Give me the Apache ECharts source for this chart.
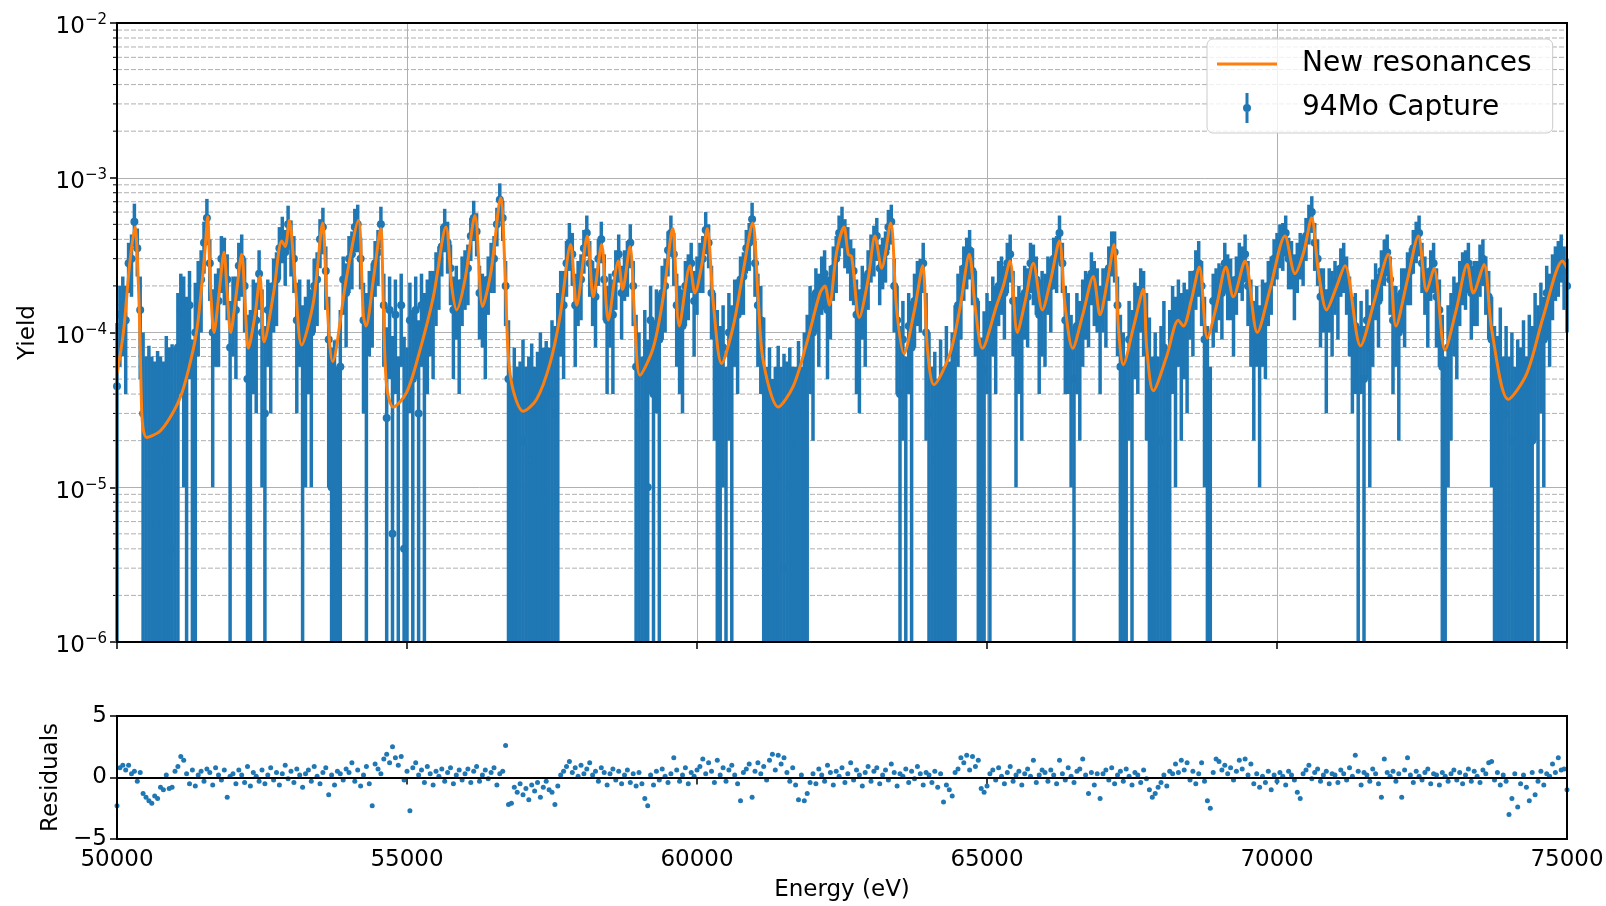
<!DOCTYPE html>
<html>
<head>
<meta charset="utf-8">
<script src="https://cdn.jsdelivr.net/npm/echarts/dist/echarts.min.js"></script>
<style>
html,body{margin:0;padding:0;background:#fff;}
#chart{width:1606px;height:906px;}
</style>
</head>
<body>
<div id="chart"></div>
<script>
// ---------------- DATA ----------------
// Energy grid of the measured points (eV)
const energies = [
50000,50050,50100,50150,50200,50250,50300,50350,50400,50450,50500,50550,50600,50650,50700,50750,50800,50850,50900,50950,
51000,51050,51100,51150,51200,51250,51300,51350,51400,51450,51500,51550,51600,51650,51700,51750,51800,51850,51900,51950,
52000,52050,52100,52150,52200,52250,52300,52350,52400,52450,52500,52550,52600,52650,52700,52750,52800,52850,52900,52950,
53000,53050,53100,53150,53200,53250,53300,53350,53400,53450,53500,53550,53600,53650,53700,53750,53800,53850,53900,53950,
54000,54050,54100,54150,54200,54250,54300,54350,54400,54450,54500,54550,54600,54650,54700,54750,54800,54850,54900,54950,
55000,55050,55100,55150,55200,55250,55300,55350,55400,55450,55500,55550,55600,55650,55700,55750,55800,55850,55900,55950,
56000,56050,56100,56150,56200,56250,56300,56350,56400,56450,56500,56550,56600,56650,56700,56750,56800,56850,56900,56950,
57000,57050,57100,57150,57200,57250,57300,57350,57400,57450,57500,57550,57600,57650,57700,57750,57800,57850,57900,57950,
58000,58050,58100,58150,58200,58250,58300,58350,58400,58450,58500,58550,58600,58650,58700,58750,58800,58850,58900,58950,
59000,59050,59100,59150,59200,59250,59300,59350,59400,59450,59500,59550,59600,59650,59700,59750,59800,59850,59900,59950,
60000,60050,60100,60150,60200,60250,60300,60350,60400,60450,60500,60550,60600,60650,60700,60750,60800,60850,60900,60950,
61000,61050,61100,61150,61200,61250,61300,61350,61400,61450,61500,61550,61600,61650,61700,61750,61800,61850,61900,61950,
62000,62050,62100,62150,62200,62250,62300,62350,62400,62450,62500,62550,62600,62650,62700,62750,62800,62850,62900,62950,
63000,63050,63100,63150,63200,63250,63300,63350,63400,63450,63500,63550,63600,63650,63700,63750,63800,63850,63900,63950,
64000,64050,64100,64150,64200,64250,64300,64350,64400,64450,64500,64550,64600,64650,64700,64750,64800,64850,64900,64950,
65000,65050,65100,65150,65200,65250,65300,65350,65400,65450,65500,65550,65600,65650,65700,65750,65800,65850,65900,65950,
66000,66050,66100,66150,66200,66250,66300,66350,66400,66450,66500,66550,66600,66650,66700,66750,66800,66850,66900,66950,
67000,67050,67100,67150,67200,67250,67300,67350,67400,67450,67500,67550,67600,67650,67700,67750,67800,67850,67900,67950,
68000,68050,68100,68150,68200,68250,68300,68350,68400,68450,68500,68550,68600,68650,68700,68750,68800,68850,68900,68950,
69000,69050,69100,69150,69200,69250,69300,69350,69400,69450,69500,69550,69600,69650,69700,69750,69800,69850,69900,69950,
70000,70050,70100,70150,70200,70250,70300,70350,70400,70450,70500,70550,70600,70650,70700,70750,70800,70850,70900,70950,
71000,71050,71100,71150,71200,71250,71300,71350,71400,71450,71500,71550,71600,71650,71700,71750,71800,71850,71900,71950,
72000,72050,72100,72150,72200,72250,72300,72350,72400,72450,72500,72550,72600,72650,72700,72750,72800,72850,72900,72950,
73000,73050,73100,73150,73200,73250,73300,73350,73400,73450,73500,73550,73600,73650,73700,73750,73800,73850,73900,73950,
74000,74050,74100,74150,74200,74250,74300,74350,74400,74450,74500,74550,74600,74650,74700,74750,74800,74850,74900,74950,
75000
];
// Measured capture yield, in units of 1e-5
const yieldE5 = [
4.5,13,15,12,28,30,52,35,14,3,-1,1.2,-2,-1.5,0.6,-1,-2.5,1.5,-1,0.4,
-1,8,14,12,6,15,-2,10,18,22,38,55,28,10,15,16,30,28,22,8,
15,14,27,30,20,5,6,13,12,24,10,3,14,12,20,22,35,42,33,50,
38,30,12,14,7,9,13,10,20,22,40,48,25,9,1,0.9,-2,6,22,18,
30,32,48,50,30,12,9,16,18,28,33,50,15,2.8,14,0.5,13,-3,15,0.4,
-1,12,5,14,3,15,9,13,16,15,22,25,36,48,38,26,14,18,13,21,
24,26,42,55,45,18,16,14,22,28,30,50,72,55,20,5,-3,1,-2,-1.5,
2,-2,-1,1.5,-3,-0.5,2,-1,0.8,-2,4,3,9,16,15,28,38,32,15,20,
22,35,44,28,20,17,30,40,22,12,16,13,24,32,18,25,28,38,20,6,
3,-1,6,1,12,4,11,9,18,20,34,44,32,15,12,11,20,22,28,16,
22,28,30,46,38,18,10,7,4,8,-2,10,7,14,13,22,23,35,38,54,
28,15,12,5.5,-2,1,-3,-1,1.2,-2,0.3,-1.5,1,-2,-1,1.8,-2,3,6,12,
10,18,15,22,24,14,18,26,30,44,50,40,36,28,25,13,11,18,15,24,
32,36,42,26,30,33,48,52,20,12,4,9,-1,11,8,16,20,20,28,10,
3,-1,1.5,-2,2,-1,5,-1.5,3,7,15,18,26,30,34,25,16,8,1.3,5.7,
11,8,15,12,20,22,18,28,32,16,9,12,10,18,17,28,26,22,13,16,
15,22,20,30,30,44,28,12,11,7,5,11,9,14,17,16,24,20,18,12,
18,17,26,34,33,15,6,3,-1,9,7,13,12,18,16,10,4.5,-1,1,-2,
2,8,-1,6,12,9,14,10,13,11,17,16,24,28,20,9,3,-2,16,18,
20,18,28,22,21,15,22,28,26,32,20,14,9,13,8,14,13,20,22,30,
33,38,38,44,30,29,22,28,33,31,42,52,60,38,30,17,18,11,18,16,
21,18,26,28,22,15,10,11,5,10,5,12,8,14,20,16,25,30,33,22,
12,13,10,18,17,24,25,35,40,44,28,22,17,25,28,17,14,6,-1,8,
10,15,13,20,24,24,28,18,20,20,27,30,22,17,9,3,1.5,6.5,-2,3,
-1,2,-3,1,-1,4,-2,5,2,10,7,12,9,18,15,22,26,28,32,25,
20
];
// Yield uncertainty, in units of 1e-5
const errorE5 = [
7,7,8,8,10,13,16,12,9,7,8,7,9,8,7,8,9,8,9,8,
9,10,10,11,11,10,11,11,11,12,14,18,12,9,9,10,12,13,10,8,
8,9,11,13,10,8,8,9,9,10,9,8,8,9,10,11,13,14,13,16,
15,12,9,8,8,8,9,9,10,11,14,16,11,8,7,8,8,8,9,10,
12,13,15,17,11,9,9,9,10,11,13,15,9,8,9,9,9,10,9,9,
9,9,9,9,9,9,9,9,9,10,11,11,13,15,14,11,9,9,9,10,
10,11,13,16,14,9,8,9,9,10,12,14,20,16,9,7,8,7,8,8,
7,8,8,7,9,8,8,9,8,10,8,8,9,9,10,11,13,12,9,9,
10,11,13,11,9,9,10,12,10,8,8,9,10,11,9,9,11,12,9,7,
7,8,8,8,8,8,8,9,9,10,11,13,12,9,8,8,9,10,10,9,
9,10,12,14,12,9,8,7,7,7,8,8,8,8,9,9,10,11,13,15,
11,9,8,7,8,7,8,7,7,8,7,8,7,8,7,7,8,7,7,8,
8,8,9,9,10,9,9,10,12,13,15,14,12,12,10,9,8,9,9,10,
11,13,13,11,11,12,14,15,10,8,7,7,8,7,8,8,9,10,10,8,
7,7,6,7,7,7,6,8,7,8,9,9,10,11,12,10,9,8,8,8,
7,8,8,8,9,9,9,10,11,9,8,8,8,9,9,10,11,9,9,9,
9,9,10,11,12,13,10,8,7,6,6,7,7,8,8,8,9,9,8,8,
8,9,10,11,12,8,7,7,8,7,7,8,8,8,9,8,8,8,9,9,
9,8,9,8,8,8,8,8,8,8,8,9,10,11,9,8,8,8,8,8,
8,9,10,10,9,8,9,10,10,11,9,8,7,7,7,8,8,9,9,10,
11,12,13,13,11,10,10,10,11,11,13,15,16,13,10,9,8,8,8,9,
8,9,9,10,9,8,7,7,6,6,6,7,7,8,8,8,9,10,10,9,
8,7,8,8,9,9,10,11,12,13,10,9,9,9,10,9,8,7,8,7,
8,8,8,9,9,10,10,9,9,9,10,10,9,8,8,8,8,8,9,8,
8,8,9,8,9,8,9,8,9,8,8,9,8,9,9,10,10,11,11,11,
10
];
// Normalised residuals
const residuals = [
-2.3,0.8,1.0,0.6,1.0,0.3,0.5,-0.3,0.4,-1.3,-1.6,-1.9,-2.1,-1.5,-1.7,-0.8,-1.0,0.2,-0.9,-0.8,
0.5,0.9,1.7,1.4,0.3,-0.5,0.6,-0.7,0.2,0.5,-0.3,0.7,0.4,-0.6,0.8,0.2,-0.2,0.6,-1.6,0.1,
0.3,-0.5,0.6,0.2,-0.4,0.9,-0.7,0.4,0.1,-0.3,0.6,-0.5,0.2,0.8,-0.2,0.4,-0.6,0.3,1.0,-0.1,
0.5,-0.4,0.7,0.2,-0.8,0.3,0.6,-0.3,0.9,0.1,-0.5,0.4,0.8,-1.4,0.2,-0.6,0.5,0.3,-0.2,0.7,
0.4,1.2,-0.3,0.6,-0.7,0.2,0.9,-0.5,-2.3,1.1,0.7,0.3,1.5,1.9,1.2,2.5,1.6,1.0,1.7,-0.2,
0.5,-2.7,0.8,1.2,0.2,0.6,-0.4,0.9,0.3,-0.6,0.5,0.1,0.7,-0.3,0.4,0.8,-0.5,0.2,0.6,-0.2,
0.3,0.7,-0.4,0.5,0.9,-0.3,0.2,0.6,-0.1,0.4,0.8,-0.6,0.3,0.5,2.6,-2.2,-2.1,-0.8,-1.2,-0.5,
-1.4,-0.9,-1.8,-0.6,-1.1,-0.4,-1.6,-0.8,-0.3,-1.0,-1.2,-2.2,-0.7,0.2,0.5,0.9,1.3,0.4,0.8,0.1,
1.0,0.3,0.7,1.2,0.2,0.5,-0.3,0.8,0.4,-0.6,0.3,0.7,-0.2,0.5,-0.5,0.2,0.6,-0.4,0.3,-0.7,
0.4,-0.5,-1.7,-2.3,0.2,-0.6,0.5,-0.2,0.7,0.1,-0.4,0.3,1.6,0.6,-0.3,0.2,0.8,-0.5,0.4,0.1,
0.6,0.9,1.5,0.3,1.2,0.5,-0.4,1.4,0.2,0.8,-0.3,0.6,1.0,0.2,-0.5,-1.9,0.4,0.7,1.1,-1.6,
0.5,1.2,0.3,0.9,-0.2,1.4,1.9,0.6,1.8,1.1,1.6,0.4,-0.3,0.8,-0.6,-1.8,0.2,-1.9,-1.3,-0.4,
0.3,-0.5,0.7,0.2,-0.3,1.0,0.4,-0.6,0.5,0.1,0.8,-0.4,0.3,1.2,-0.2,0.6,0.2,-0.7,0.4,0.9,
-0.3,0.5,0.8,-0.5,0.2,0.6,-0.2,1.1,0.4,-0.7,0.3,0.1,0.7,-0.4,0.5,-0.1,0.9,0.3,-0.6,0.4,
0.2,-0.4,0.5,-0.8,0.3,-2.0,-0.6,-1.0,-1.5,0.4,0.7,1.6,1.2,1.8,0.6,1.7,0.9,1.4,-0.9,-1.2,
-0.7,0.3,0.6,-0.2,0.8,0.1,-0.5,0.4,0.9,-0.3,0.2,0.5,-0.6,0.3,0.7,0.1,1.4,-0.4,0.2,0.6,
0.4,-0.3,0.6,0.2,-0.5,1.4,0.3,-0.2,0.8,0.1,-0.4,0.5,0.7,1.5,0.2,-1.3,0.4,-0.6,0.3,-1.7,
0.3,0.6,-0.2,0.8,-0.5,0.2,0.5,-0.3,0.7,0.1,-0.6,0.4,0.2,-0.4,0.6,-0.1,-1.0,-1.6,-1.3,-0.8,
-0.4,0.2,-0.7,0.5,0.3,1.1,0.4,1.4,0.6,1.2,-0.2,0.5,-0.5,0.3,1.2,-0.3,-1.9,-2.5,0.4,1.5,
1.3,0.6,1.0,0.3,0.8,-0.2,0.5,1.4,0.7,1.5,0.2,1.1,-0.5,0.3,-0.8,0.1,-0.4,0.5,-1.0,0.2,
-0.3,0.4,0.1,-0.6,0.5,0.2,-0.2,-1.2,-1.7,0.3,0.6,1.0,-0.1,0.4,0.7,-0.3,0.2,0.5,-0.5,0.3,
0.2,-0.4,0.6,0.3,-0.2,0.8,0.1,1.8,0.5,-0.6,0.4,0.2,-0.3,0.7,0.3,-0.5,-1.6,1.5,0.4,0.1,
0.5,-0.3,0.3,-1.6,0.6,1.6,0.2,-0.4,0.5,0.1,-0.2,0.4,0.7,-0.5,0.3,0.2,-0.6,0.4,0.1,-0.3,
0.3,0.6,-0.2,0.4,-0.5,0.2,0.7,-0.3,0.5,0.1,-0.4,0.6,0.3,1.2,1.3,-0.2,0.4,-0.6,0.2,-0.3,
-3.0,-1.7,0.3,-2.4,-0.5,0.2,-0.8,-1.9,0.4,-1.4,-0.3,0.5,-0.6,0.3,0.1,1.1,0.4,1.6,0.6,0.7,
-1.0
];
// Fitted curve ("New resonances")
const fitEnergy = [
50000,50110,50220,50310,50370,50400,50425,50450,50510,50600,
50740,50910,51090,51230,51370,51460,51520,51563,51600,51621,
51672,51760,51845,51900,51960,52050,52150,52210,52265,52380,
52466,52500,52535,52700,52840,52900,52971,53069,53184,53390,
53546,53615,53718,53960,54161,54247,54293,54420,54546,54592,
54649,54764,54994,55224,55454,55672,55770,55856,56000,56172,
56304,56450,56615,56690,56747,56833,57005,57235,57465,57638,
57821,57925,58109,58212,58356,58471,58643,58718,58844,58930,
59017,59247,59419,59580,59695,59879,59965,60080,60178,60281,
60425,60626,60798,60959,61057,61143,61402,61660,61890,62120,
62206,62281,62407,62534,62609,62666,62799,62950,63069,63184,
63339,63443,63569,63750,63891,63971,64086,64362,64535,64695,
64793,64920,65167,65282,65397,65523,65660,65799,65954,66100,
66247,66345,66477,66650,66833,66948,67080,67189,67264,67350,
67530,67695,67753,67868,68097,68299,68385,68520,68661,68799,
68960,69120,69247,69448,69661,69879,70138,70310,70460,70597,
70713,70856,71010,71172,71440,71680,71919,72051,72250,72437,
72580,72707,72896,73090,73281,73385,73569,73701,73988,74304,
74592,74925,75000
];
const fitYieldE5 = [
5.4,10,28,48,20,8,3.2,2.4,2.1,2.15,
2.3,2.8,3.8,5.7,10,20,35,56,25,17,
10,18,33,18,10,17,32,15,7.9,13,
23,14,8.7,18,39,36,53,22,8.3,16,
51,17,6.5,23,53,13,11,22,47,15,
4.5,3.3,4.1,7.7,17,48,20,14,22,57,
14.7,25,74,25,7,4.2,3.1,3.7,6.3,12.7,
37,15,42,17,37,12,29,19,36,11.5,
5.3,8,17,47,11,27,18,27,47,15.5,
6.3,11,25,51,16,6.5,3.3,4.5,8.5,18,
20,15,33,48,32,31,12.5,22,42,26,
51,14,7.3,14,27,8,4.6,7.3,14.5,32,
15,7.9,15,20,29,10,16,28,14,22,
39,15,7.9,13,23,13,22,37,11,6.2,
11,19,8,4.2,7,12,11,16,26.5,9.2,
15,26.5,17,29,10,19,42,24,33,55,
25,14,19,27,8.2,16,32,11,22,42,
18.5,26,7.7,14,27.5,18,27.5,10.5,3.7,5.4,
12.7,29,26
];
const minorMultipliers = [2,3,4,5,6,7,8,9];
const minorDecades = [-6,-5,-4,-3];
const UNIT = 1e-5;

// ---------------- CHART ----------------
const FONT = "'DejaVu Sans', sans-serif";
const TOP = {left:117, top:23, width:1450, height:619};
const RES = {left:117, top:716, width:1450, height:123};
const BLUE = '#1f77b4', ORANGE = '#ff7f0e';

const nPts = Math.min(energies.length, yieldE5.length, errorE5.length);
const errRows = [];
for (let i = 0; i < nPts; i++) {
  const y = yieldE5[i] * UNIT, e = errorE5[i] * UNIT;
  errRows.push([energies[i], y + e, y, e]);
}
const fitRows = fitEnergy.map((E, i) => [E, fitYieldE5[i] * UNIT]);
const resRows = [];
for (let i = 0; i < Math.min(energies.length, residuals.length); i++) resRows.push([energies[i], residuals[i]]);
const minorRows = [];
minorDecades.forEach(d => minorMultipliers.forEach(m => minorRows.push([50000, m * Math.pow(10, d)])));

const chart = echarts.init(document.getElementById('chart'), null, {renderer:'canvas'});

const tickStyle = {show:true, inside:false, length:7, lineStyle:{color:'#000', width:1.5}};
const labelBase = {color:'#000', fontFamily:FONT, fontSize:23};

chart.setOption({
  animation:false,
  backgroundColor:'#fff',
  textStyle:{fontFamily:FONT},
  grid:[
    Object.assign({containLabel:false, outerBoundsMode:'none', show:false}, TOP),
    Object.assign({containLabel:false, outerBoundsMode:'none', show:false}, RES)
  ],
  legend:{
    left:1207, top:39, orient:'vertical',
    padding:[10,21,10,10],
    itemWidth:60, itemHeight:30, itemGap:14,
    backgroundColor:'rgba(255,255,255,0.8)',
    borderColor:'#cccccc', borderWidth:1, borderRadius:6,
    textStyle:{fontFamily:FONT, fontSize:28, color:'#000', padding:[0,0,0,20], lineHeight:30},
    data:[
      {name:'New resonances', icon:'path://M0,0H60V3H0Z'},
      {name:'94Mo Capture', icon:'path://M8.5,0H11.5V30H8.5Z M10,11A4,4,0,1,1,10,19A4,4,0,1,1,10,11Z'}
    ]
  },
  xAxis:[
    {gridIndex:0, type:'value', min:50000, max:75000, interval:5000,
     axisLine:{show:false}, axisTick:tickStyle, axisLabel:{show:false},
     splitLine:{show:true, lineStyle:{color:'#b0b0b0', width:1}}},
    {gridIndex:1, type:'value', min:50000, max:75000, interval:5000,
     axisLine:{show:false}, axisTick:tickStyle,
     axisLabel:Object.assign({show:true, margin:10, showMinLabel:true, showMaxLabel:true,
       formatter:function(v){return String(v);}}, labelBase),
     splitLine:{show:false},
     name:'Energy (eV)', nameLocation:'middle', nameGap:40,
     nameTextStyle:labelBase}
  ],
  yAxis:[
    {gridIndex:0, type:'log', logBase:10, min:1e-6, max:1e-2,
     axisLine:{show:false}, axisTick:tickStyle,
     axisLabel:{show:true, margin:10,
       formatter:function(v){const p=Math.round(Math.log10(v));return '{b|10}{s|'+(p<0?'\u2212':'')+Math.abs(p)+'}';},
       rich:{
         b:{fontFamily:FONT, fontSize:23, color:'#000', verticalAlign:'bottom', lineHeight:32},
         s:{fontFamily:FONT, fontSize:15, color:'#000', verticalAlign:'bottom', lineHeight:32, padding:[0,0,11,0]}
       }},
     splitLine:{show:true, lineStyle:{color:'#b0b0b0', width:1}},
     name:'Yield', nameLocation:'middle', nameGap:77, nameTextStyle:labelBase},
    {gridIndex:1, type:'value', min:-5, max:5, interval:5,
     axisLine:{show:false}, axisTick:tickStyle,
     axisLabel:Object.assign({show:true, margin:10,
       formatter:function(v){return v<0?'\u2212'+(-v):String(v);}}, labelBase),
     splitLine:{show:false},
     name:'Residuals', nameLocation:'middle', nameGap:53, nameTextStyle:labelBase}
  ],
  series:[
    { // minor log grid + minor ticks
      type:'custom', xAxisIndex:0, yAxisIndex:0, silent:true, z:1,
      data:minorRows,
      renderItem:function(params, api){
        const cs = params.coordSys;
        const y = api.coord([api.value(0), api.value(1)])[1];
        return {type:'group', children:[
          {type:'line', shape:{x1:cs.x, y1:y, x2:cs.x+cs.width, y2:y},
           style:{stroke:'#b0b0b0', lineWidth:1, lineDash:[5,2]}},
          {type:'line', shape:{x1:cs.x-4, y1:y, x2:cs.x, y2:y},
           style:{stroke:'#000', lineWidth:1}}
        ]};
      }
    },
    {
      name:'94Mo Capture', type:'custom', xAxisIndex:0, yAxisIndex:0, z:2,
      itemStyle:{color:BLUE},
      encode:{x:0, y:1},
      data:errRows,
      renderItem:function(params, api){
        const cs = params.coordSys;
        const top = cs.y, bottom = cs.y + cs.height;
        const E = api.value(0), hi = api.value(1), y = api.value(2), e = api.value(3);
        const px = api.coord([E, 1e-4])[0];
        const yHi = Math.max(top, Math.min(bottom, api.coord([E, hi])[1]));
        const lo = y - e;
        const yLo = lo > 1e-7 ? Math.min(bottom, api.coord([E, lo])[1]) : bottom;
        const ch = [{type:'line', shape:{x1:px, y1:yLo, x2:px, y2:yHi},
                     style:{stroke:BLUE, lineWidth:3.5}}];
        if (y >= 1e-6) {
          const py = api.coord([E, y])[1];
          if (py >= top && py <= bottom)
            ch.push({type:'circle', shape:{cx:px, cy:py, r:4}, style:{fill:BLUE}});
        }
        return {type:'group', children:ch};
      }
    },
    {
      name:'New resonances', type:'line', xAxisIndex:0, yAxisIndex:0, z:3,
      data:fitRows, smooth:0.3, symbol:'none', showSymbol:false,
      lineStyle:{color:ORANGE, width:3}, itemStyle:{color:ORANGE}
    },
    {
      name:'Residuals', type:'scatter', xAxisIndex:1, yAxisIndex:1, z:2,
      data:resRows, symbolSize:5, itemStyle:{color:BLUE, opacity:1},
      markLine:{silent:true, symbol:['none','none'], label:{show:false},
        lineStyle:{color:'#000', width:2, type:'solid'}, data:[{yAxis:0}]}
    }
  ],
  graphic:[
    {type:'rect', z:100, silent:true, shape:{x:TOP.left, y:TOP.top, width:TOP.width, height:TOP.height},
     style:{fill:'none', stroke:'#000', lineWidth:2}},
    {type:'rect', z:100, silent:true, shape:{x:RES.left, y:RES.top, width:RES.width, height:RES.height},
     style:{fill:'none', stroke:'#000', lineWidth:2}}
  ]
});
</script>
</body>
</html>
